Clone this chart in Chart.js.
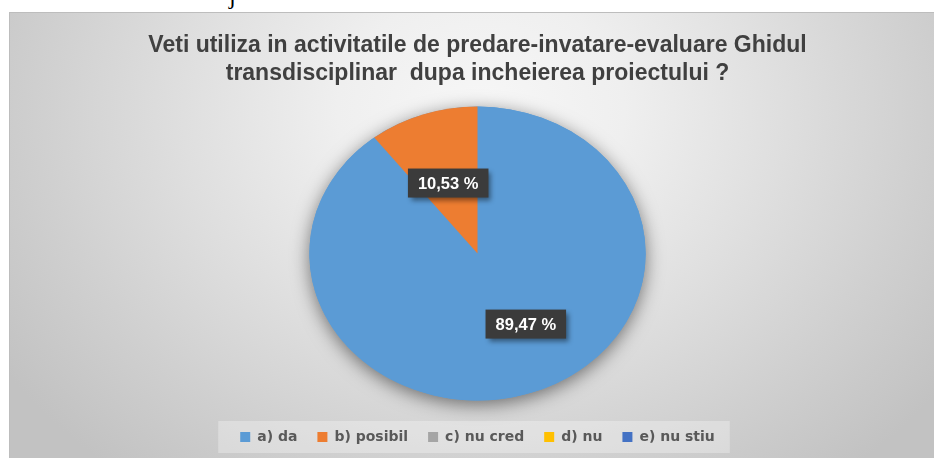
<!DOCTYPE html>
<html>
<head>
<meta charset="utf-8">
<script src="https://cdn.jsdelivr.net/npm/chart.js@4.4.1/dist/chart.umd.min.js"></script>
<style>
  html, body { margin: 0; padding: 0; background: #ffffff; }
  body { width: 934px; height: 458px; position: relative; overflow: hidden; }
  /* bit of the document text above the chart, cut off */
  .above { position: absolute; left: 0; top: 0; width: 934px; height: 12px; overflow: hidden; }
  .above span { position: absolute; left: 229px; top: -15px; font: 24px/22px "Liberation Serif", serif; color: #000; }
  .frame {
    position: absolute; left: 9px; top: 12px; width: 925px; height: 446px;
    border-top: 1px solid #bdbdbd; border-left: 1px solid #bdbdbd; box-sizing: border-box;
    background: radial-gradient(ellipse 62% 105% at 51% 22%, #f7f7f7 0%, #efefef 25%, #dfdfdf 52%, #cfcfcf 78%, #c2c2c2 100%);
  }
</style>
</head>
<body>
<div class="above"><span>j</span></div>
<div class="frame"><canvas id="pieChart"></canvas></div>
<script>
// ---- data ----
const categories = ["a) da", "b) posibil", "c) nu cred", "d) nu", "e) nu stiu"];
const answers = [17, 2, 0, 0, 0];            // 89,47 % / 10,53 %
const sliceColors = ["#5b9bd5", "#ed7d31", "#a5a5a5", "#ffc000", "#4472c4"];
const titleLines = [
  "Veti utiliza in activitatile de predare-invatare-evaluare Ghidul",
  "transdisciplinar  dupa incheierea proiectului ?"
];

// the picture is wider than tall, so the pie is an ellipse
const stretchX = 1.144;

function pctText(v) {
  const total = answers.reduce((a, b) => a + b, 0);
  return (v / total * 100).toFixed(2).replace(".", ",") + " %";
}

// ---- stretch pie + soft shadow ----
const ellipsePie = {
  id: "ellipsePie",
  beforeDatasetsDraw(chart) {
    const arc = chart.getDatasetMeta(0).data[0];
    const ctx = chart.ctx;
    ctx.save();
    ctx.translate(arc.x, arc.y);
    ctx.scale(stretchX, 1);
    ctx.translate(-arc.x, -arc.y);
    ctx.save();
    ctx.shadowColor = "rgba(0,0,0,0.5)";
    ctx.shadowBlur = 18;
    ctx.shadowOffsetY = 4;
    ctx.beginPath();
    ctx.arc(arc.x, arc.y, arc.outerRadius, 0, Math.PI * 2);
    ctx.fillStyle = sliceColors[0];
    ctx.fill();
    ctx.restore();
  },
  afterDatasetsDraw(chart, args, opts) {
    const ctx = chart.ctx;
    ctx.restore();

    // dark data label boxes
    const meta = chart.getDatasetMeta(0);
    meta.data.forEach((arc, i) => {
      const v = answers[i];
      if (!v) return;
      const mid = (arc.startAngle + arc.endAngle) / 2;
      const r = arc.outerRadius * 0.5;
      const shift = opts.shift[i] || [0, 0];
      const x = arc.x + Math.cos(mid) * r * stretchX + shift[0];
      const y = arc.y + Math.sin(mid) * r + shift[1];
      const txt = pctText(v);
      ctx.save();
      ctx.font = "bold 16.5px 'Liberation Sans', Arial, sans-serif";
      const w = ctx.measureText(txt).width + 20;
      const h = 29;
      ctx.shadowColor = "rgba(0,0,0,0.45)";
      ctx.shadowBlur = 5;
      ctx.shadowOffsetX = 3;
      ctx.shadowOffsetY = 3;
      ctx.fillStyle = "#3b3b3b";
      ctx.fillRect(x - w / 2, y - h / 2, w, h);
      ctx.shadowColor = "transparent";
      ctx.fillStyle = "#ffffff";
      ctx.textAlign = "center";
      ctx.textBaseline = "middle";
      ctx.fillText(txt, x, y + 1);
      ctx.restore();
    });
  }
};

// ---- light box behind the legend ----
const legendBox = {
  id: "legendBox",
  beforeDraw(chart) {
    const boxes = chart.legend.legendHitBoxes;
    if (!boxes || !boxes.length) return;
    const left = Math.min(...boxes.map(b => b.left)) - 22;
    const right = Math.max(...boxes.map(b => b.left + b.width)) + 15;
    const yc = boxes[0].top + boxes[0].height / 2;
    const ctx = chart.ctx;
    ctx.save();
    ctx.fillStyle = "rgba(255,255,255,0.3)";
    ctx.fillRect(left, yc - 16, right - left, 32);
    ctx.restore();
  }
};

new Chart(document.getElementById("pieChart"), {
  type: "pie",
  data: {
    labels: categories,
    datasets: [{
      data: answers,
      backgroundColor: sliceColors,
      borderWidth: 0,
      radius: 147,
    }],
  },
  options: {
    responsive: true,
    maintainAspectRatio: false,
    animation: false,
    layout: { padding: { left: 11, right: 0, top: 0, bottom: 4 } },
    plugins: {
      title: {
        display: true,
        text: titleLines,
        color: "#404040",
        font: { family: "'Liberation Sans', Arial, sans-serif", size: 23, weight: "bold", lineHeight: 1.22 },
        padding: { top: 19, bottom: 9 },
      },
      legend: {
        position: "bottom",
        labels: {
          color: "#595959",
          font: { family: "'DejaVu Sans', sans-serif", size: 14, weight: "bold" },
          boxWidth: 10,
          boxHeight: 10,
          padding: 20,
        },
      },
      tooltip: { enabled: false },
      ellipsePie: { shift: [[21, 1], [-2, -1]] },
    },
  },
  plugins: [ellipsePie, legendBox],
});
</script>
</body>
</html>
